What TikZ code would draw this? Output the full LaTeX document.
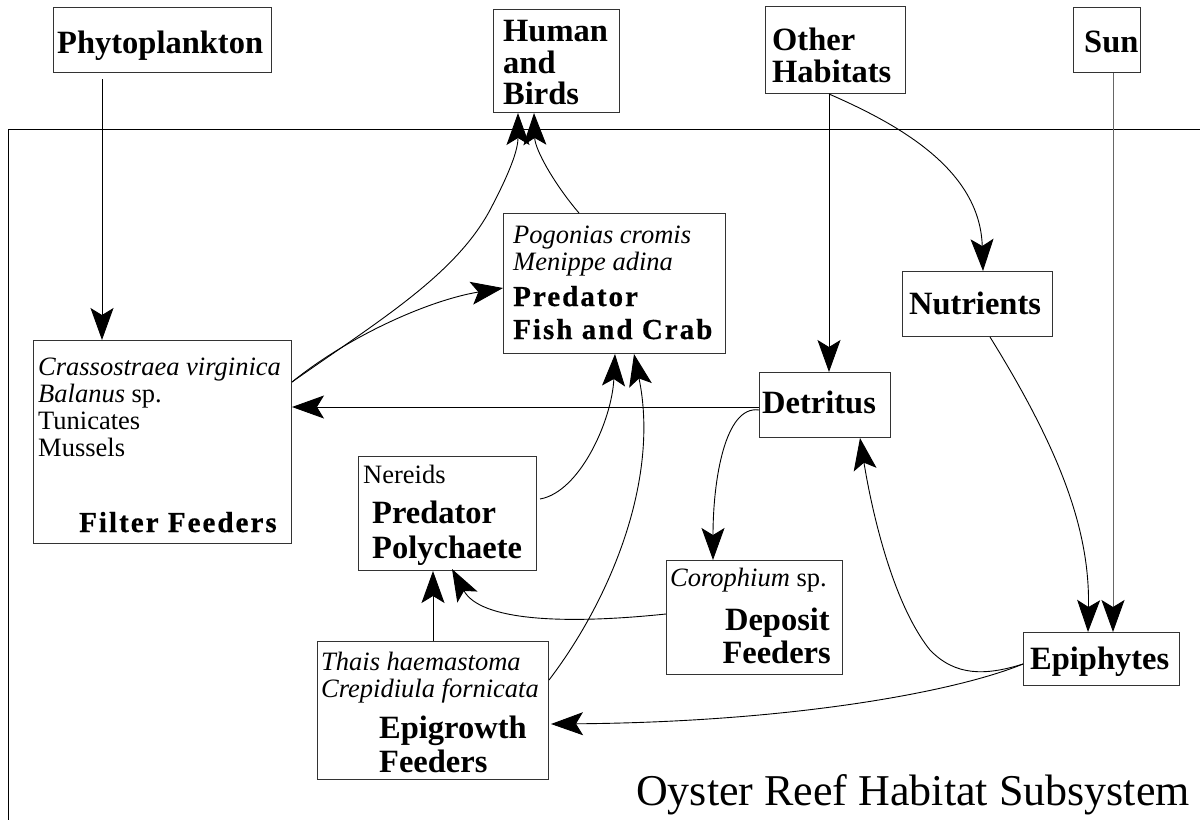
\documentclass[tikz,border=0pt]{standalone}
\usepackage{fontspec}
\setmainfont{Liberation Serif}
\newfontfamily\heavyfont{Liberation Serif}[LetterSpace=7,FakeBold=0.6]
\usetikzlibrary{arrows.meta,calc}
\begin{document}
\begin{tikzpicture}[x=1pt,y=-1pt,
  box/.style={draw=black!80, line width=1pt, inner sep=0pt, anchor=north west},
  bl/.style={anchor=base west, inner sep=0pt, font=\fontsize{32.5}{32.5}\selectfont\bfseries},
  ble/.style={anchor=base east, inner sep=0pt, font=\fontsize{32.5}{32.5}\selectfont\bfseries},
  hv/.style={anchor=base west, inner sep=0pt, font=\fontsize{29}{29}\selectfont\heavyfont\bfseries},
  rm/.style={anchor=base west, inner sep=0pt, font=\fontsize{26.5}{26.5}\selectfont},
  it/.style={anchor=base west, inner sep=0pt, font=\fontsize{26.5}{26.5}\selectfont\itshape},
  arr/.style={line width=0.9pt, -{Stealth[length=32pt,width=23pt,inset=7pt,color=black]}},
  ln/.style={line width=0.9pt},
]
\useasboundingbox (0,0) rectangle (1200,820);
% subsystem frame
\draw[ln] (1200,129) -- (8,129) -- (8,820);

% boxes
\node[box, minimum width=218pt, minimum height=65pt] (phyto) at (53,7) {};
\node[box, minimum width=126pt, minimum height=103pt] (human) at (493,9) {};
\node[box, minimum width=140pt, minimum height=87pt] (other) at (765,6) {};
\node[box, minimum width=67pt, minimum height=65pt] (sun) at (1073,7) {};
\node[box, minimum width=258pt, minimum height=203pt] (filter) at (33,340) {};
\node[box, minimum width=222pt, minimum height=140pt] (fish) at (503,213) {};
\node[box, minimum width=178pt, minimum height=114pt] (nereid) at (358,456) {};
\node[box, minimum width=131pt, minimum height=65pt] (detritus) at (759,372) {};
\node[box, minimum width=150pt, minimum height=65pt] (nutrients) at (902,271) {};
\node[box, minimum width=176pt, minimum height=114pt] (deposit) at (666,560) {};
\node[box, minimum width=231pt, minimum height=138pt] (epigrowth) at (317,641) {};
\node[box, minimum width=156pt, minimum height=53pt] (epiphytes) at (1023,632) {};

% texts
\node[bl] (tphyto) at (57,53) {Phytoplankton};
\node[bl] (thum1) at (503,41) {Human};
\node[bl] (thum2) at (503,73) {and};
\node[bl] (thum3) at (503,104) {Birds};
\node[bl] (toth1) at (772,50) {Other};
\node[bl] (toth2) at (772,82) {Habitats};
\node[bl] (tsun) at (1084,52) {Sun};
\node[it] (tfil1) at (38,375) {Crassostraea virginica};
\node[rm] (tfil2) at (38,402) {\textit{Balanus} sp.};
\node[rm] (tfil3) at (38,429) {Tunicates};
\node[rm] (tfil4) at (38,456) {Mussels};
\node[hv] (tfil5) at (79,532) {Filter Feeders};
\node[it] (tfish1) at (513,243) {Pogonias cromis};
\node[it] (tfish2) at (513,270) {Menippe adina};
\node[hv] (tfish3) at (513,306) {Predator};
\node[hv] (tfish4) at (513,339) {Fish and Crab};
\node[rm] (tner1) at (363,483) {Nereids};
\node[bl] (tner2) at (372,523) {Predator};
\node[bl] (tner3) at (372,558) {Polychaete};
\node[bl] (tdet) at (762,413) {Detritus};
\node[bl] (tnut) at (909,314) {Nutrients};
\node[rm] (tdep1) at (670,586) {\textit{Corophium} sp.};
\node[ble] (tdep2) at (830,630) {Deposit};
\node[ble] (tdep3) at (831,663) {Feeders};
\node[it] (tepg1) at (321,670) {Thais haemastoma};
\node[it] (tepg2) at (321,697) {Crepidiula fornicata};
\node[bl] (tepg3) at (379,738) {Epigrowth};
\node[bl] (tepg4) at (379,772) {Feeders};
\node[bl] (tepi) at (1030,669) {Epiphytes};
\node[anchor=base west, inner sep=0pt, font=\fontsize{44}{44}\selectfont] (title) at (636,805) {Oyster Reef Habitat Subsystem};

% connector end points
\coordinate (pB) at ($(phyto.south west)+(49,6)$);
\coordinate (fT) at ($(filter.north west)+(69,0)$);
\coordinate (fA) at ($(filter.north east)+(0,42)$);
\coordinate (fR) at ($(filter.north east)+(0,67)$);
\coordinate (hA) at ($(human.south west)+(25,0)$);
\coordinate (hB) at ($(human.south west)+(41,0)$);
\coordinate (kA) at ($(fish.north west)+(76,0)$);
\coordinate (kL) at ($(fish.north west)+(0,75)$);
\coordinate (kB1) at ($(fish.south west)+(112,0)$);
\coordinate (kB2) at ($(fish.south west)+(131,0)$);
\coordinate (nR) at ($(nereid.north east)+(3,43)$);
\coordinate (nB) at ($(nereid.south west)+(75,0)$);
\coordinate (nB2) at ($(nereid.south west)+(94,-2)$);
\coordinate (gR) at ($(epigrowth.north east)+(0,39)$);
\coordinate (gT) at ($(epigrowth.north west)+(116,0)$);
\coordinate (gRa) at ($(epigrowth.north east)+(2,83)$);
\coordinate (dL) at ($(deposit.north west)+(0,54)$);
\coordinate (dT) at ($(deposit.north west)+(47,0)$);
\coordinate (tL) at ($(detritus.north west)+(0,35)$);
\coordinate (tL2) at ($(detritus.north west)+(0,38)$);
\coordinate (tT) at ($(detritus.north west)+(70,0)$);
\coordinate (tB) at ($(detritus.south west)+(101,0)$);
\coordinate (oB) at ($(other.south west)+(64,0)$);
\coordinate (uT) at ($(nutrients.north west)+(81,0)$);
\coordinate (uB) at ($(nutrients.south west)+(88,0)$);
\coordinate (sB) at ($(sun.south west)+(40,0)$);
\coordinate (eT1) at ($(epiphytes.north west)+(65,0)$);
\coordinate (eT2) at ($(epiphytes.north west)+(90,0)$);
\coordinate (eL) at ($(epiphytes.north west)+(0,32)$);

% connectors
\draw[arr] (pB) -- (fT);
\draw[arr] (fA) .. controls (380,320) and (455,275) .. (490,210) .. controls (510,172) and (518,150) .. (hA);
\draw[arr] (fA) .. controls (350,335) and (430,300) .. (kL);
\draw[arr] (kA) .. controls (555,185) and (535,150) .. (hB);
\draw[arr] (oB) -- (tT);
\draw[arr] (oB) .. controls (900,125) and (980,170) .. (uT);
\draw[arr] (tL) -- (fR);
\draw[arr] (tL2) .. controls (725,405) and (713,480) .. (dT);
\draw[arr] (nR) .. controls (580,492) and (612,420) .. (kB1);
\draw[arr] (gR) .. controls (610,600) and (660,480) .. (kB2);
\draw[arr] (uB) .. controls (1060,450) and (1090,530) .. (eT1);
\draw[arr, draw=black!60] (sB) -- (eT2);
\draw[arr] (eL) .. controls (985,676) and (955,676) .. (930,650) .. controls (890,600) and (870,500) .. (tB);
\draw[arr] (eL) .. controls (960,690) and (800,722) .. (gRa);
\draw[arr] (dL) .. controls (560,625) and (480,620) .. (nB2);
\draw[arr] (gT) -- (nB);
\end{tikzpicture}
\end{document}
